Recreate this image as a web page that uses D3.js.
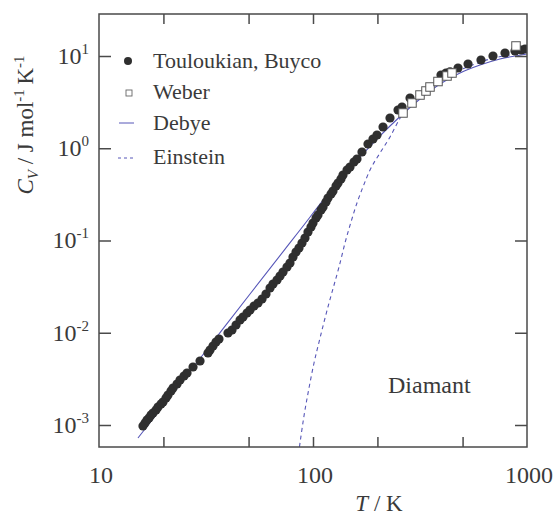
<!DOCTYPE html>
<html><head><meta charset="utf-8">
<script src="https://cdn.jsdelivr.net/npm/d3@7"></script>
<style>
body{margin:0;background:#fff}
</style>
</head><body>
<svg id="c" width="553" height="518" font-family="'Liberation Serif', 'Times New Roman', Times, serif"></svg>
<script>
// Touloukian, Buyco (T in K, Cv in J mol^-1 K^-1)
const touloukianT = [16.05,16.41,16.76,17.13,17.50,17.88,18.47,18.87,19.49,19.91,20.57,21.01,21.70,22.18,23.15,23.91,24.96,25.78,27.50,29.65,
  32.31,33.02,34.10,35.22,36.37,40.07,41.83,43.68,45.60,47.10,49.17,50.78,53.02,55.34,57.78,60.31,62.97,65.03,67.89,70.12,
  72.42,75.60,78.08,80.64,83.29,86.02,88.84,91.75,94.76,97.87,100.0,103.3,105.5,109.0,111.4,115.0,117.5,121.4,124.0,128.1,
  130.9,135.1,138.1,144.2,148.9,155.4,160.5,169.4,180.7,190.7,199.1,212.4,229.0,249.6,260.6,284.0,396.4,418.3,436.8,476.0,
  530.1,609.5,693.6,789.3,878.9,937.6,978.8];
const touloukianC = [9.75e-4,1.051e-3,1.133e-3,1.191e-3,1.284e-3,1.349e-3,1.454e-3,1.567e-3,1.689e-3,1.776e-3,1.963e-3,2.115e-3,2.337e-3,2.518e-3,2.782e-3,3.074e-3,3.397e-3,3.661e-3,4.253e-3,4.941e-3,
  6.033e-3,6.501e-3,7.183e-3,7.936e-3,8.555e-3,9.94e-3,1.071e-2,1.213e-2,1.374e-2,1.481e-2,1.637e-2,1.764e-2,1.950e-2,2.101e-2,2.322e-2,2.632e-2,3.056e-2,3.377e-2,3.730e-2,4.123e-2,
  4.556e-2,5.161e-2,5.704e-2,6.626e-2,7.503e-2,8.294e-2,9.395e-2,0.1064,0.1236,0.1400,0.1548,0.1753,0.1890,0.2141,0.2307,0.2614,0.2888,0.3191,0.3440,0.3897,
  0.4201,0.4642,0.5129,0.5810,0.6262,0.7093,0.7647,0.9105,1.112,1.260,1.392,1.700,2.128,2.598,2.800,3.505,6.223,6.542,6.75,7.410,
  8.190,9.05,10.0,10.78,11.33,11.61,11.91];
// Weber
const weberT = [263.4,290.1,316.2,337.3,352.2,383.8,422.9,446.2,888.4];
const weberC = [2.411,3.094,3.777,4.174,4.613,5.290,6.070,6.542,12.84];
// Debye model
const debyeT = [15.21,29.65,50.78,86.96,120.1,141.1,165.9,194.9,229.0,269.1,316.2,392.2,486.4,603.1,747.7,1000];
const debyeC = [7.23e-4,5.26e-3,2.632e-2,0.1299,0.3381,0.5259,0.8039,1.198,1.743,2.472,3.419,4.971,6.542,7.99,9.28,10.51];
// Einstein model
const einsteinT = [85.5,90.76,95.79,101.1,106.7,112.6,118.8,125.4,132.3,141.1,150.5,160.5,171.2,184.7,205.6,229.0,252.3,266.2,299.7,352.2,436.8,541.6,671.6,832.7,1000];
const einsteinC = [4.8e-4,1.252e-3,2.518e-3,4.700e-3,7.936e-3,1.308e-2,2.101e-2,3.293e-2,5.161e-2,9.395e-2,0.1587,0.2550,0.3801,0.5810,0.8882,1.324,2.024,2.472,3.334,4.500,6.223,7.792,9.28,10.25,10.78];
// axes
const xLabelTicks = [10,100,1000];
const xInnerTicks = [20,50,100,200,500];
const yTickExp = [-3,-2,-1,0,1];
const legendLabels = ["Touloukian, Buyco","Weber","Debye","Einstein"];

const FF="'Liberation Serif', 'Times New Roman', Times, serif";
const txtCol="#3a3a3a";
const L=99,R=527,T=14,B=447;
const svg=d3.select("#c");
const x=d3.scaleLog().domain([10,1000]).range([L,R]);
const y=d3.scaleLog().domain([Math.pow(10,-3.2385),Math.pow(10,1.4553)]).range([B,T]);
const axisCol="#4a4a4a", lineCol="#5656b8", dotCol="#2f2f2f";

svg.append("defs").append("clipPath").attr("id","clip").append("rect")
  .attr("x",L).attr("y",T).attr("width",R-L).attr("height",B-T);

// lines
const ln=d3.line().x(d=>x(d[0])).y(d=>y(d[1])).curve(d3.curveMonotoneX);
const gp=svg.append("g").attr("clip-path","url(#clip)");
gp.append("path").datum(debyeT.map((t,i)=>[t,debyeC[i]]))
  .attr("d",ln).attr("fill","none").attr("stroke",lineCol).attr("stroke-width",1.1);
gp.append("path").datum(einsteinT.map((t,i)=>[t,einsteinC[i]]))
  .attr("d",ln).attr("fill","none").attr("stroke",lineCol).attr("stroke-width",1.1)
  .attr("stroke-dasharray","4,3.5");

// points
gp.selectAll("circle.t").data(touloukianT.map((t,i)=>[t,touloukianC[i]])).enter().append("circle")
  .attr("cx",d=>x(d[0])).attr("cy",d=>y(d[1])).attr("r",4.6).attr("fill",dotCol);
const s=8.5;
gp.selectAll("rect.w").data(weberT.map((t,i)=>[t,weberC[i]])).enter().append("rect")
  .attr("x",d=>x(d[0])-s/2).attr("y",d=>y(d[1])-s/2).attr("width",s).attr("height",s)
  .attr("fill","#fff").attr("stroke","#555").attr("stroke-width",1);

// axes (inward ticks)
const yTickVals=yTickExp.map(e=>Math.pow(10,e));
function styleAxis(g){g.select(".domain").remove();g.selectAll("line").attr("stroke",axisCol).attr("stroke-width",1.5);g.selectAll("text").remove();}
svg.append("g").attr("transform",`translate(0,${B})`).call(d3.axisBottom(x).tickValues(xInnerTicks).tickSize(-10)).call(styleAxis);
svg.append("g").attr("transform",`translate(0,${T})`).call(d3.axisTop(x).tickValues(xInnerTicks).tickSize(-10)).call(styleAxis);
svg.append("g").attr("transform",`translate(${L},0)`).call(d3.axisLeft(y).tickValues(yTickVals).tickSize(-12)).call(styleAxis);
svg.append("g").attr("transform",`translate(${R},0)`).call(d3.axisRight(y).tickValues(yTickVals).tickSize(-12)).call(styleAxis);
svg.append("rect").attr("x",L).attr("y",T).attr("width",R-L).attr("height",B-T)
  .attr("fill","none").attr("stroke",axisCol).attr("stroke-width",1.5);

function txt(sel){return sel.append("text").attr("font-family",FF).attr("fill",txtCol);}

// tick labels
xLabelTicks.forEach(d=>txt(svg).attr("x",x(d)+2).attr("y",483).attr("text-anchor","middle").attr("font-size",24).text(d));
yTickExp.forEach(e=>{
  const t=txt(svg).attr("x",89).attr("y",y(Math.pow(10,e))+8).attr("text-anchor","end").attr("font-size",24);
  t.append("tspan").text("10");
  t.append("tspan").attr("dy",-10).attr("font-size",15).text(e<0?"-"+(-e):String(e));
});

// axis titles
const xt=txt(svg).attr("x",379).attr("y",511).attr("text-anchor","middle").attr("font-size",23);
xt.append("tspan").attr("font-style","italic").text("T");
xt.append("tspan").text(" / K");
const yt=txt(svg).attr("transform","translate(33,125) rotate(-90)").attr("text-anchor","middle").attr("font-size",23);
yt.append("tspan").attr("font-style","italic").text("C");
yt.append("tspan").attr("font-style","italic").attr("font-size",15).attr("dy",5).text("V");
yt.append("tspan").attr("dy",-5).text(" / J mol");
yt.append("tspan").attr("font-size",15).attr("dy",-9).text("-1");
yt.append("tspan").attr("dy",9).text("\u2009K");
yt.append("tspan").attr("font-size",15).attr("dy",-9).text("-1");

// legend
const lg=svg.append("g");
const ly=[61,93,123,158], lb=[68,99,130,164];
lg.append("circle").attr("cx",128).attr("cy",ly[0]).attr("r",4).attr("fill",dotCol);
lg.append("rect").attr("x",126).attr("y",ly[1]-3).attr("width",6).attr("height",6).attr("fill","#fff").attr("stroke","#666").attr("stroke-width",0.9);
lg.append("line").attr("x1",119).attr("x2",134).attr("y1",ly[2]).attr("y2",ly[2]).attr("stroke",lineCol).attr("stroke-width",1);
lg.append("line").attr("x1",118).attr("x2",134).attr("y1",ly[3]).attr("y2",ly[3]).attr("stroke",lineCol).attr("stroke-width",1).attr("stroke-dasharray","3,3");
legendLabels.forEach((t,i)=>txt(lg).attr("x",153).attr("y",lb[i]).attr("font-size",22).text(t));

txt(svg).attr("x",388).attr("y",393).attr("font-size",24).text("Diamant");
</script>
</body></html>
